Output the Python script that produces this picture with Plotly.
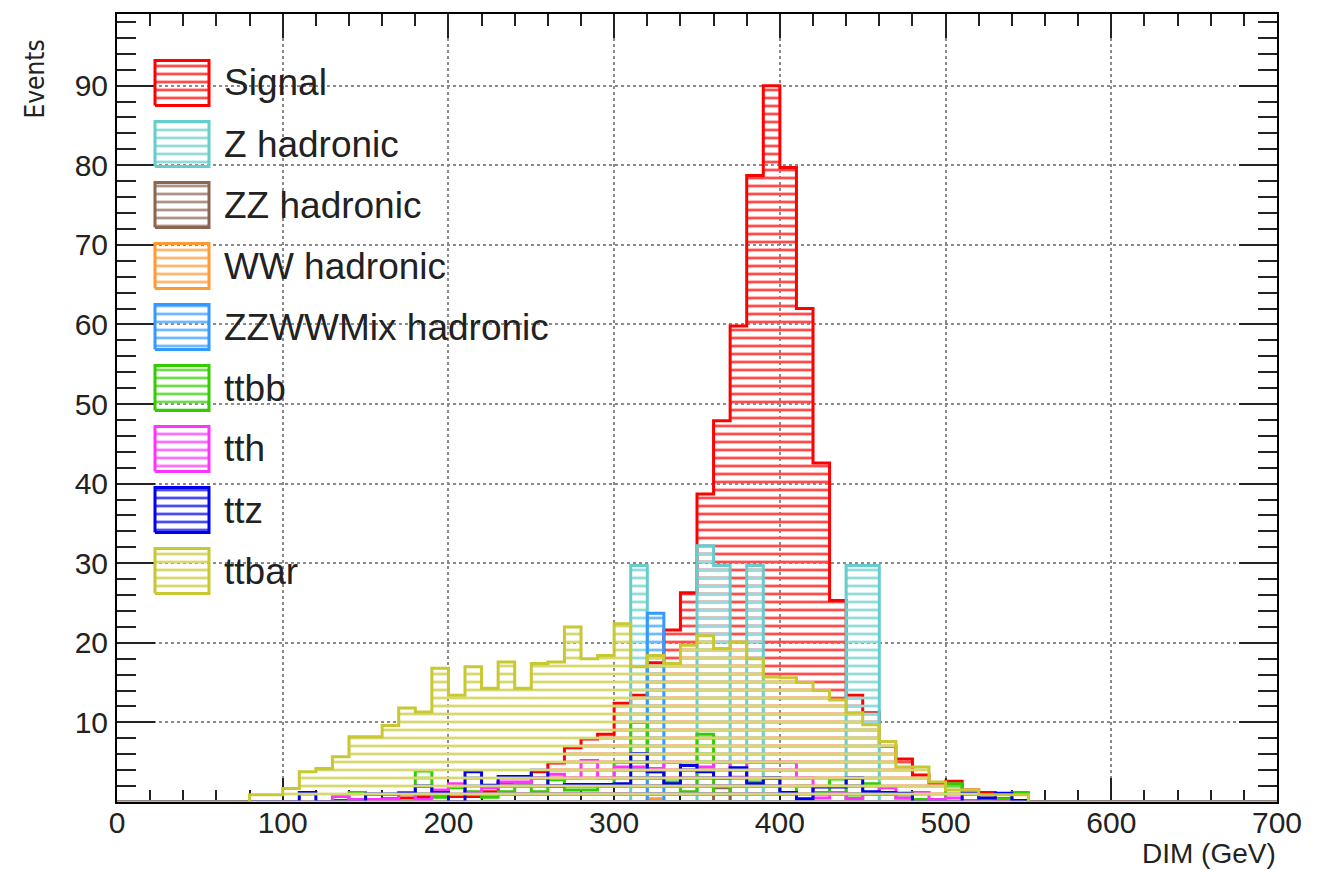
import numpy as np
import plotly.graph_objects as go

# ---- binning ---------------------------------------------------------------
BIN_WIDTH = 10
X_MIN, X_MAX = 0, 700
Y_MAX = 99

# ---- per-sample contents (events per 10 GeV bin, starting at *_start) -------
signal_start = 130
signal_values = [0.2, 0.3, 0.3, 0.4, 0.5, 0.7, 0.7, 0.7, 0.7, 1.3, 2.4, 2.4, 3.8, 4.9,
                 6.8, 7.9, 8.5, 12.4, 13.4, 17.5, 21.6, 26.3, 38.7, 47.9, 59.8, 78.7,
                 90.0, 79.7, 62.0, 42.6, 25.3, 13.4, 11.2, 7.0, 5.4, 3.4, 2.4, 2.6,
                 1.5, 1.2, 0.4, 0.2]

zhad_start = 310
zhad_values = [29.7, 0, 0, 0, 32.2, 29.7, 0, 29.7, 0, 0, 0, 0, 0, 29.7, 29.7]

zzhad_start = 360
zzhad_values = [1.8]

wwhad_start = 320
wwhad_values = [0.4]

zzwwmix_start = 320
zzwwmix_values = [23.7]

ttbb_start = 140
ttbb_values = [1.2, 0, 0, 0, 3.9, 0.6, 1.8, 1.3, 0.6, 1.3, 2.3, 1.3, 2.8, 1.5, 1.5,
               2.0, 5.0, 10.0, 3.8, 2.5, 1.3, 8.5, 1.0, 2.0, 2.5, 3.0, 1.2, 2.0, 1.2,
               2.9, 0.5, 2.3, 1.0, 0.5, 0.3, 0, 2.3, 1.0, 0.5, 0.3, 1.2]

tth_start = 130
tth_values = [0.7, 0.3, 0.3, 0.3, 1.2, 0.3, 1.5, 2.3, 1.2, 1.8, 2.5, 2.5, 3.0, 3.5,
              3.0, 5.2, 3.0, 4.4, 4.4, 4.2, 5.0, 4.0, 4.4, 5.0, 3.1, 5.0, 5.0, 5.0,
              3.0, 0.5, 1.2, 0.4, 1.0, 1.8, 0.5, 1.2, 0.3, 0.5, 0.2, 0.5, 0.2]

ttz_start = 110
ttz_values = [1.2, 0, 0, 0, 1.0, 1.0, 1.1, 2.0, 1.2, 0, 3.8, 2.1, 3.2, 3.2, 4.0, 2.0,
              2.2, 2.2, 2.2, 2.3, 6.1, 3.8, 2.3, 4.6, 3.8, 3.0, 4.3, 2.3, 3.0, 1.2,
              0.4, 1.9, 1.9, 3.0, 1.3, 1.2, 1.1, 0, 0, 0, 1.1, 0.5, 1.1, 0.2]

ttbar_start = 80
ttbar_values = [0.9, 0.9, 1.7, 3.8, 4.2, 5.7, 8.2, 8.2, 9.6, 11.8, 11.3, 16.8, 13.4,
                17.0, 14.3, 17.6, 14.3, 17.4, 17.6, 22.0, 18.0, 18.4, 22.4, 17.0,
                18.4, 17.4, 19.7, 20.9, 19.3, 20.1, 18.0, 15.7, 15.6, 15.0, 14.0,
                12.8, 11.2, 9.7, 7.6, 4.4, 4.4, 2.5, 1.5, 1.5, 0.9, 0.9, 0.9]

sample_names = ["Signal", "Z hadronic", "ZZ hadronic", "WW hadronic",
                "ZZWWMix hadronic", "ttbb", "tth", "ttz", "ttbar"]
sample_colors = ["#ff0000", "#66cccc", "#8c6450", "#ff9933", "#3399ff",
                 "#33cc00", "#ff33ff", "#0000ee", "#c8c832"]

samples = [
    (signal_start, signal_values),
    (zhad_start, zhad_values),
    (zzhad_start, zzhad_values),
    (wwhad_start, wwhad_values),
    (zzwwmix_start, zzwwmix_values),
    (ttbb_start, ttbb_values),
    (tth_start, tth_values),
    (ttz_start, ttz_values),
    (ttbar_start, ttbar_values),
]


def step_histogram(start, vals):
    """Expand a partial bin list to the full axis range, as step points."""
    left_edges = np.arange(X_MIN, X_MAX, BIN_WIDTH)
    y = np.zeros(len(left_edges))
    i0 = (start - X_MIN) // BIN_WIDTH
    y[i0:i0 + len(vals)] = vals
    x = np.append(left_edges, X_MAX)
    y = np.append(y, y[-1])
    return x, y


def lighten(hex_color, amount):
    """Mix a hex colour with white (opaque result, so later hatches cover)."""
    h = hex_color.lstrip("#")
    r, g, b = (int(h[i:i + 2], 16) for i in (0, 2, 4))
    mix = [round(c + (255 - c) * amount) for c in (r, g, b)]
    return "rgb({},{},{})".format(*mix)


def hatch(color):
    return dict(shape="-", fgcolor=lighten(color, 0.3), bgcolor="rgba(0,0,0,0)",
                size=8, solidity=0.35, fgopacity=1.0, fillmode="replace")


fig = go.Figure()

for name, color, (start, vals) in zip(sample_names, sample_colors, samples):
    x, y = step_histogram(start, vals)
    fig.add_trace(go.Scatter(
        x=x, y=y, name=name, mode="lines",
        line=dict(shape="hv", color=color, width=3),
        fill="tozeroy", fillcolor="rgba(0,0,0,0)", fillpattern=hatch(color),
        showlegend=False, hoverinfo="x+y+name",
    ))

# ---- frame geometry (pixels) -------------------------------------------------
W, H = 1324, 870
M_L, M_R, M_T, M_B = 117, 47, 14, 68
PW, PH = W - M_L - M_R, H - M_T - M_B

# ---- legend: hatched boxes on an overlay axis in plot-area fractions ---------
KEY_LEFT, KEY_W, KEY_H = 38, 54, 45       # px from plot-area left
KEY_TOP0, KEY_STEP = 69, 61               # px from plot-area top
TEXT_LEFT = 105

annotations = []
for i, (name, color) in enumerate(zip(sample_names, sample_colors)):
    cy = KEY_TOP0 + i * KEY_STEP
    x0, x1 = KEY_LEFT / PW, (KEY_LEFT + KEY_W) / PW
    y0, y1 = 1 - (cy + KEY_H / 2) / PH, 1 - (cy - KEY_H / 2) / PH
    fig.add_trace(go.Scatter(
        x=[x0, x1, x1, x0, x0], y=[y0, y0, y1, y1, y0],
        xaxis="x2", yaxis="y2", mode="lines",
        line=dict(color=color, width=3),
        fill="toself", fillcolor="rgba(0,0,0,0)", fillpattern=hatch(color),
        showlegend=False, hoverinfo="skip",
    ))
    annotations.append(dict(
        text=name, xref="paper", yref="paper", x=TEXT_LEFT / PW, y=1 - cy / PH,
        xanchor="left", yanchor="middle", showarrow=False,
        font=dict(size=37, color="#222222"),
    ))

# axis titles, ROOT style: x title right-aligned, y title at the top
annotations.append(dict(
    text="DIM (GeV)", xref="paper", yref="paper", x=1.0, y=-51 / PH,
    xanchor="right", yanchor="middle", showarrow=False, borderpad=0,
    font=dict(size=28, color="#222222"),
))
annotations.append(dict(
    text="Events", xref="paper", yref="paper", x=-82 / PW, y=1 - 24 / PH,
    xanchor="center", yanchor="top", textangle=-90, showarrow=False,
    font=dict(size=26, color="#222222",
              family="Liberation Sans Narrow, DejaVu Sans Condensed, Liberation Sans"),
))

axis_common = dict(
    showline=True, linecolor="black", linewidth=2, mirror="ticks",
    ticks="inside", tickcolor="#222222", tickwidth=2,
    showgrid=True, gridcolor="#8a8a8a", griddash="dot", gridwidth=1.5,
    zeroline=False, layer="below traces",
    tickfont=dict(size=30, color="#222222"),
)

fig.update_layout(
    width=W, height=H,
    margin=dict(l=M_L, r=M_R, t=M_T, b=M_B, pad=0),
    paper_bgcolor="white", plot_bgcolor="white",
    font=dict(family="Liberation Sans, Arial, Helvetica, sans-serif"),
    xaxis=dict(range=[X_MIN, X_MAX], tickmode="linear", tick0=0, dtick=100,
               ticklen=24, ticklabelstandoff=-7,
               minor=dict(dtick=20, tick0=0, ticks="inside", ticklen=12,
                          tickwidth=2, tickcolor="#222222", showgrid=False),
               **axis_common),
    yaxis=dict(range=[0, Y_MAX], tickmode="array",
               tickvals=list(range(0, 100, 10)),
               ticktext=[""] + [str(v) for v in range(10, 100, 10)],
               ticklen=38, ticklabelstandoff=1,
               minor=dict(dtick=2, tick0=0, ticks="inside", ticklen=19,
                          tickwidth=2, tickcolor="#222222", showgrid=False),
               **axis_common),
    xaxis2=dict(overlaying="x", anchor="y2", range=[0, 1], visible=False),
    yaxis2=dict(overlaying="y", anchor="x2", range=[0, 1], visible=False),
    annotations=annotations,
    showlegend=False,
)

fig.write_html("out.html")
